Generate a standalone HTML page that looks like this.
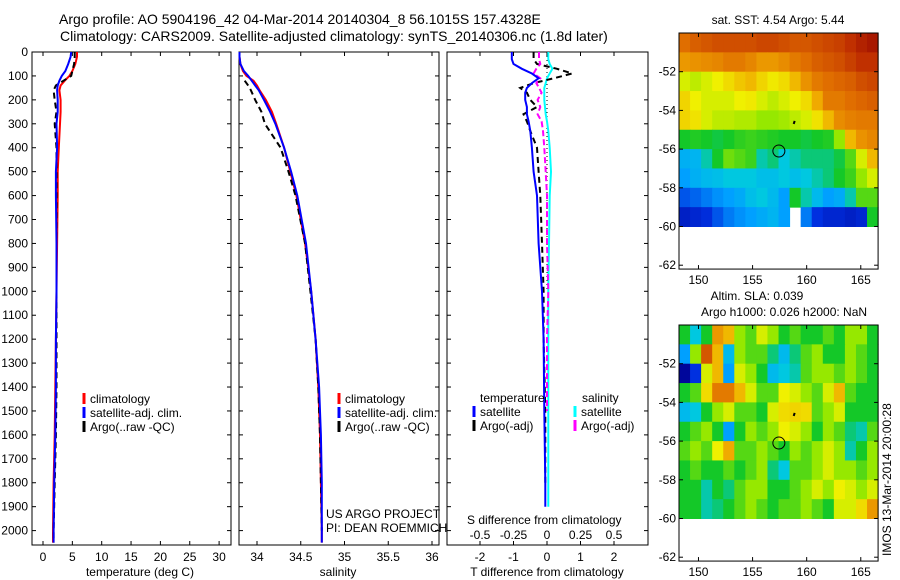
<!DOCTYPE html>
<html><head><meta charset="utf-8"><style>
html,body{margin:0;padding:0;background:#fff;}
svg{display:block;font-family:"Liberation Sans",sans-serif;}
text{fill:#000;}
</style></head><body>
<svg id="fig" width="900" height="580" viewBox="0 0 900 580" xmlns="http://www.w3.org/2000/svg">
<text x="59" y="24" font-size="14">Argo profile: AO 5904196_42 04-Mar-2014 20140304_8 56.1015S 157.4328E</text>
<text x="60" y="41" font-size="14">Climatology: CARS2009. Satellite-adjusted climatology: synTS_20140306.nc (1.8d later)</text>
<g id="g1"></g>
<g id="g2"></g>
<g id="g3"></g>
<g id="m1"></g>
<g id="m2"></g>
<text x="778" y="24" font-size="12" text-anchor="middle">sat. SST: 4.54 Argo: 5.44</text>
<text x="757" y="300" font-size="12" text-anchor="middle">Altim. SLA: 0.039</text>
<text x="784" y="316" font-size="12" text-anchor="middle">Argo h1000: 0.026 h2000: NaN</text>
<text transform="translate(891,556) rotate(-90)" font-size="12">IMOS 13-Mar-2014 20:00:28</text>
</svg>
<script>
// ---- data ----
const depthT = [0,20,50,80,100,120,140,160,200,250,300,400,500,600,800,1000,1200,1400,1600,1800,2000,2050];
const climT = [5.8,5.8,5.5,5.0,4.5,3.7,3.0,2.8,3.0,3.0,2.9,2.7,2.5,2.5,2.4,2.3,2.2,2.1,2.0,1.8,1.7,1.7];
const satT  = [4.8,4.7,4.3,3.8,3.2,2.8,2.5,2.4,2.5,2.5,2.3,2.4,2.2,2.2,2.3,2.3,2.2,2.2,2.1,1.9,1.8,1.8];
const argoT = [5.4,5.4,5.3,5.0,4.8,3.5,2.2,1.8,2.0,2.3,2.0,2.3,2.3,2.3,2.3,2.3,2.3,2.3,2.2,2.0,1.8,1.8];
const climS = [33.80,33.80,33.81,33.84,33.88,33.96,34.00,34.03,34.10,34.17,34.22,34.31,34.38,34.45,34.55,34.62,34.67,34.70,34.72,34.73,34.74,34.74];
const satS  = [33.80,33.80,33.81,33.85,33.90,33.94,33.98,34.02,34.08,34.15,34.21,34.31,34.39,34.46,34.56,34.62,34.67,34.71,34.73,34.74,34.74,34.74];
const argoS = [null,null,null,null,null,33.86,33.90,33.93,33.98,34.05,34.09,34.27,34.36,34.44,34.55,34.61,34.67,34.70,34.72,34.73,34.74,null];
const depthD = [0,30,50,70,90,110,130,150,170,200,230,260,290,330,400,500,600,800,1000,1200,1500,1800,1900];
const satTd  = [-1.05,-1.05,-1.0,-0.75,-0.45,-0.25,-0.45,-0.6,-0.65,-0.65,-0.6,-0.6,-0.55,-0.5,-0.45,-0.4,-0.3,-0.25,-0.15,-0.1,-0.08,-0.05,-0.05];
const satSd  = [0.01,0.01,0.02,0.04,0.02,0.0,-0.01,-0.02,-0.02,-0.02,-0.015,-0.01,0.0,0.01,0.02,0.03,0.02,0.015,0.01,0.01,0.01,0.01,0.01];
const argoTd = [-0.4,-0.4,-0.3,0.3,0.75,0.2,-0.4,-0.8,-0.6,-0.5,-0.3,-0.7,-0.6,-0.5,-0.3,-0.25,-0.2,-0.15,-0.1,-0.1,-0.05,-0.05,null];
const argoSd = [-0.06,-0.06,-0.05,-0.08,-0.1,-0.05,-0.08,-0.06,-0.04,-0.07,-0.05,-0.07,-0.04,-0.03,-0.02,-0.01,0.0,0.0,0.01,0.0,0.0,null,null];
const depthTicks = [0,100,200,300,400,500,600,700,800,900,1000,1100,1200,1300,1400,1500,1600,1700,1800,1900,2000];
const tTicks = [0,5,10,15,20,25,30];
const sTicks = [34,34.5,35,35.5,36];
const tdTicks = [-2,-1,0,1,2];
const sdTicks = [-0.5,-0.25,0,0.25,0.5];
const sdTickLabels = ["-0.5","-0.25","0","0.25","0.5"];
const latTicks = [-52,-54,-56,-58,-60,-62];
const lonTicks = [150,155,160,165];
const sstGrid = [
[0.82,0.84,0.85,0.86,0.86,0.86,0.86,0.87,0.87,0.86,0.85,0.85,0.86,0.87,0.88,0.9,0.93,0.95],
[0.75,0.76,0.77,0.78,0.8,0.8,0.78,0.75,0.75,0.77,0.8,0.82,0.84,0.85,0.86,0.88,0.9,0.9],
[0.6,0.58,0.6,0.62,0.65,0.68,0.7,0.66,0.63,0.65,0.7,0.76,0.8,0.82,0.83,0.84,0.86,0.87],
[0.66,0.62,0.6,0.6,0.6,0.62,0.63,0.6,0.58,0.6,0.62,0.65,0.72,0.8,0.8,0.82,0.83,0.84],
[0.66,0.64,0.6,0.58,0.58,0.57,0.57,0.55,0.55,0.56,0.58,0.6,0.64,0.7,0.77,0.79,0.8,0.8],
[0.45,0.46,0.45,0.44,0.45,0.47,0.48,0.47,0.46,0.45,0.45,0.44,0.45,0.46,0.55,0.7,0.76,0.78],
[0.33,0.34,0.4,0.45,0.52,0.5,0.48,0.4,0.42,0.38,0.4,0.42,0.42,0.42,0.44,0.5,0.6,0.7],
[0.3,0.33,0.35,0.36,0.38,0.38,0.38,0.36,0.36,0.38,0.36,0.38,0.4,0.42,0.45,0.48,0.55,0.6],
[0.2,0.22,0.25,0.28,0.3,0.32,0.36,0.38,0.35,0.3,0.45,0.4,0.35,0.3,0.32,0.4,0.5,0.5],
[0.1,0.12,0.14,0.2,0.25,0.28,0.3,0.32,0.34,0.3,null,0.25,0.15,0.12,0.12,0.1,0.12,0.45]];
const slaGrid = [
[0.45,0.38,0.45,0.75,0.7,0.55,0.5,0.6,0.55,0.45,0.5,0.45,0.45,0.5,0.45,0.55,0.55,0.45],
[0.3,0.55,0.85,0.7,0.35,0.55,0.5,0.5,0.42,0.35,0.42,0.5,0.55,0.45,0.45,0.55,0.5,0.45],
[0.02,0.15,0.6,0.7,0.3,0.6,0.55,0.45,0.35,0.38,0.4,0.5,0.55,0.55,0.5,0.55,0.5,0.45],
[0.45,0.5,0.65,0.8,0.8,0.7,0.6,0.5,0.5,0.62,0.6,0.55,0.5,0.6,0.7,0.5,0.45,0.45],
[0.35,0.38,0.45,0.55,0.6,0.5,0.5,0.45,0.6,0.65,0.66,0.65,0.5,0.55,0.6,0.45,0.45,0.45],
[0.45,0.5,0.55,0.45,0.3,0.45,0.55,0.5,0.55,0.62,0.6,0.55,0.45,0.55,0.5,0.42,0.4,0.5],
[0.5,0.55,0.5,0.62,0.72,0.5,0.5,0.55,0.5,0.45,0.55,0.5,0.55,0.6,0.55,0.4,0.45,0.55],
[0.45,0.5,0.45,0.45,0.5,0.45,0.5,0.55,0.42,0.38,0.5,0.5,0.55,0.6,0.55,0.55,0.5,0.55],
[0.45,0.45,0.4,0.45,0.42,0.5,0.55,0.55,0.45,0.45,0.5,0.55,0.6,0.55,0.62,0.6,0.55,0.6],
[0.45,0.45,0.4,0.42,0.45,0.5,0.55,0.5,0.45,0.5,0.5,0.55,0.5,0.45,0.6,0.6,0.65,0.75]];
const argoLon = [157.43];
const argoLat = [-56.10];

// ---- helpers ----
const NS = "http://www.w3.org/2000/svg";
function mk(parent, tag, attrs){const e=document.createElementNS(NS,tag);for(const k in attrs)e.setAttribute(k,attrs[k]);parent.appendChild(e);return e;}
function depthY(d){return 52 + d*0.2393;}
const top0=52, bot0=545;

function panelFrame(g,x0,x1,xs,xTicks,xLabels,labelY,name){
  const f=mk(g,'rect',{x:x0,y:top0,width:x1-x0,height:bot0-top0,fill:'none',stroke:'#000','stroke-width':1});
  
  
  depthTicks.forEach(d=>{
    const y=depthY(d);
    const t1=mk(g,'line',{x1:x0,x2:x0+4,y1:y,y2:y,stroke:'#000'});
    
    
    const t2=mk(g,'line',{x1:x1-4,x2:x1,y1:y,y2:y,stroke:'#000'});
    
    
  });
  xTicks.forEach((v,i)=>{
    const x=xs(v);
    const a=mk(g,'line',{x1:x,x2:x,y1:bot0,y2:bot0-4,stroke:'#000'});
    
    
    const b=mk(g,'line',{x1:x,x2:x,y1:top0,y2:top0+4,stroke:'#000'});
    
    
    if(xLabels){
      const t=mk(g,'text',{x:x,y:labelY,'font-size':12,'text-anchor':'middle'});
      t.textContent=xLabels[i];
      
      
    }
  });
}
function profile(g,xs,vals,depths,color,dash,name,w){
  let d='';let pen=false;
  vals.forEach((v,i)=>{
    if(v===null){pen=false;return;}
    d+=(pen?'L':'M')+xs(v).toFixed(1)+' '+depthY(depths[i]).toFixed(1);pen=true;
  });
  const p=mk(g,'path',{d:d,fill:'none',stroke:color,'stroke-width':w||2});
  if(dash)p.setAttribute('stroke-dasharray',dash);
  
  
}
function legendItem(g,x,y,color,label,name){
  const l=mk(g,'line',{x1:x,x2:x,y1:y-10,y2:y+1,stroke:color,'stroke-width':3});
  
  
  if(label){
    const t=mk(g,'text',{x:x+6,y:y,'font-size':12});
    t.textContent=label;
    
    
  }
}

// ---- panel 1 temperature ----
const g1=document.getElementById('g1');
const xT=v=>43+v*5.87;
panelFrame(g1,32,231,xT,tTicks,tTicks.map(String),561,'temperature-panel');
depthTicks.forEach(d=>{
  const t=mk(g1,'text',{x:28,y:depthY(d)+4,'font-size':12,'text-anchor':'end'});
  t.textContent=String(d);
  
  
});
profile(g1,xT,climT,depthT,'#ff0000',null,'climatology-temperature-line');
profile(g1,xT,argoT,depthT,'#000','6 4','argo-temperature-line');
profile(g1,xT,satT,depthT,'#0000ff',null,'satellite-temperature-line');
legendItem(g1,84,403,'#ff0000','climatology','temp-legend-climatology');
legendItem(g1,84,417,'#0000ff','satellite-adj. clim.','temp-legend-satellite');
legendItem(g1,84,431,'#000','Argo(..raw -QC)','temp-legend-argo');
(function(){const t=mk(g1,'text',{x:140,y:576,'font-size':12,'text-anchor':'middle'});t.textContent='temperature (deg C)';

})();

// ---- panel 2 salinity ----
const g2=document.getElementById('g2');
const xS=v=>257+(v-34)*87.5;
panelFrame(g2,239,439,xS,sTicks,sTicks.map(String),561,'salinity-panel');
profile(g2,xS,climS,depthT,'#ff0000',null,'climatology-salinity-line');
profile(g2,xS,argoS,depthT,'#000','6 4','argo-salinity-line');
profile(g2,xS,satS,depthT,'#0000ff',null,'satellite-salinity-line');
legendItem(g2,339,403,'#ff0000','climatology','sal-legend-climatology');
legendItem(g2,339,417,'#0000ff','satellite-adj. clim.','sal-legend-satellite');
legendItem(g2,339,431,'#000','Argo(..raw -QC)','sal-legend-argo');
(function(){
const a=mk(g2,'text',{x:326,y:518,'font-size':12});a.textContent='US ARGO PROJECT';


const b=mk(g2,'text',{x:326,y:532,'font-size':12});b.textContent='PI: DEAN ROEMMICH';


const t=mk(g2,'text',{x:338,y:576,'font-size':12,'text-anchor':'middle'});t.textContent='salinity';


})();

// ---- panel 3 differences ----
const g3=document.getElementById('g3');
const xTd=v=>547+v*33.5;
const xSd=v=>547+v*134;
panelFrame(g3,447,648,xTd,tdTicks,tdTicks.map(String),561,'difference-panel');
sdTicks.forEach((v,i)=>{
  const t=mk(g3,'text',{x:xSd(v),y:539,'font-size':12,'text-anchor':'middle'});
  t.textContent=sdTickLabels[i];
  
  
});
(function(){
const z=mk(g3,'line',{x1:xTd(0),x2:xTd(0),y1:top0,y2:depthY(1000),stroke:'#000','stroke-dasharray':'1 3'});


})();
profile(g3,xSd,satSd,depthD,'#00ffff',null,'satellite-salinity-diff-line');
profile(g3,xTd,argoTd,depthD,'#000','6 4','argo-temperature-diff-line');
profile(g3,xSd,argoSd,depthD,'#ff00ff','6 3','argo-salinity-diff-line');
profile(g3,xTd,satTd,depthD,'#0000ff',null,'satellite-temperature-diff-line');
(function(){
const a=mk(g3,'text',{x:480,y:402,'font-size':12});a.textContent='temperature';


const b=mk(g3,'text',{x:582,y:402,'font-size':12});b.textContent='salinity';


})();
legendItem(g3,474,416,'#0000ff','satellite','diff-legend-temp-satellite');
legendItem(g3,474,430,'#000','Argo(-adj)','diff-legend-temp-argo');
legendItem(g3,575,416,'#00ffff','satellite','diff-legend-sal-satellite');
legendItem(g3,575,430,'#ff00ff','Argo(-adj)','diff-legend-sal-argo');
(function(){
const a=mk(g3,'text',{x:467,y:524,'font-size':12});a.textContent='S difference from climatology';


const t=mk(g3,'text',{x:547,y:576,'font-size':12,'text-anchor':'middle'});t.textContent='T difference from climatology';


})();

// ---- maps ----
const cmapStops=[[0,[0,0,144]],[0.15,[0,48,224]],[0.3,[0,160,255]],[0.38,[0,200,224]],[0.45,[20,200,40]],[0.55,[150,232,0]],[0.62,[240,240,0]],[0.72,[240,170,0]],[0.82,[224,110,0]],[0.9,[192,48,0]],[1,[144,0,0]]];
function cmap(v){
  for(let i=1;i<cmapStops.length;i++){
    if(v<=cmapStops[i][0]){const a=cmapStops[i-1],b=cmapStops[i];const t=(v-a[0])/(b[0]-a[0]);
      return 'rgb('+a[1].map((c,k)=>Math.round(c+(b[1][k]-c)*t)).join(',')+')';}
  }
  return 'rgb(144,0,0)';
}
const lonMin=148.2, lonMax=166.6, gridLat0=-50, gridDLat=1;
function drawMap(id,grid,yTop,name){
  const g=document.getElementById(id);
  const xL=lon=>679+(lon-lonMin)*10.82;
  const yL=lat=>yTop+(-50-lat)*19.35;
  const nc=grid[0].length, dlon=(lonMax-lonMin)/nc;
  grid.forEach((row,r)=>row.forEach((v,c)=>{
    if(v===null)return;
    const x0=xL(lonMin+c*dlon), x1=xL(lonMin+(c+1)*dlon);
    const y0=yL(gridLat0-r*gridDLat), y1=yL(gridLat0-(r+1)*gridDLat);
    const cell=mk(g,'rect',{x:x0.toFixed(2),y:y0.toFixed(2),width:(x1-x0+0.5).toFixed(2),height:(y1-y0+0.5).toFixed(2),fill:cmap(v)});
    
    
  }));
  const x0=xL(lonMin),x1=xL(lonMax),y0=yL(-50),y1=yL(-62.2);
  const f=mk(g,'rect',{x:x0,y:y0,width:x1-x0,height:y1-y0,fill:'none',stroke:'#000'});
  
  
  latTicks.forEach(lat=>{
    const y=yL(lat);
    const a=mk(g,'line',{x1:x0,x2:x0+4,y1:y,y2:y,stroke:'#000'});
    
    
    const b=mk(g,'line',{x1:x1,x2:x1-4,y1:y,y2:y,stroke:'#000'});
    
    
    const t=mk(g,'text',{x:x0-3,y:y+4,'font-size':12,'text-anchor':'end'});
    t.textContent=String(lat);
    
    
  });
  lonTicks.forEach(lon=>{
    const x=xL(lon);
    const a=mk(g,'line',{x1:x,x2:x,y1:y1,y2:y1-4,stroke:'#000'});
    
    
    const b=mk(g,'line',{x1:x,x2:x,y1:y0,y2:y0+4,stroke:'#000'});
    
    
    const t=mk(g,'text',{x:x,y:y1+15,'font-size':12,'text-anchor':'middle'});
    t.textContent=String(lon);
    
    
  });
  argoLon.forEach((lon,i)=>{
    const c=mk(g,'circle',{cx:xL(lon),cy:yL(argoLat[i]),r:6,fill:'none',stroke:'#000'});
    
    
  });
  const isl=mk(g,'path',{d:'M'+xL(158.8)+' '+yL(-54.7)+' l1 -3',stroke:'#000','stroke-width':2});
  
  
}
drawMap('m1',sstGrid,33,'sst-map');
drawMap('m2',slaGrid,325,'sla-map');
</script>
</body></html>
